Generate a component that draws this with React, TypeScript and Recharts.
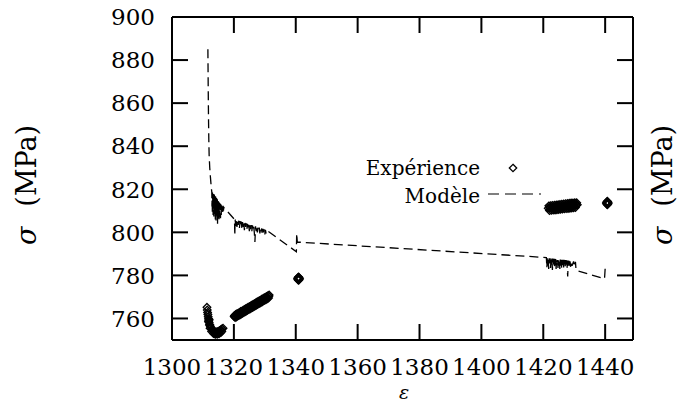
import React from 'react';
import { ComposedChart, XAxis, YAxis, Scatter, Line } from 'recharts';

const FONT = "'DejaVu Serif', 'Liberation Serif', serif";
const fontStyle = { fontFamily: FONT };

const xTicks = [1300, 1320, 1340, 1360, 1380, 1400, 1420, 1440];
const yTicks = [760, 780, 800, 820, 840, 860, 880, 900];

// Expérience (dense measured points)
const expX = [
  1311.3, 1311.4, 1311.5, 1311.6, 1311.7, 1311.8, 1311.9, 1312.0, 1312.2, 1312.4, 1312.6, 1312.9, 1313.2, 1313.5, 1313.8, 1314.1,
  1314.4, 1314.7, 1315.0, 1315.3, 1315.6, 1315.9, 1316.2, 1316.5, 1312.3, 1312.8, 1313.4, 1314.0, 1314.6, 1315.2, 1315.8,
  1311.8, 1312.1, 1312.0, 1313.0, 1313.9, 1315.0, 1316.1,
  1320.2, 1320.6, 1321.0, 1321.4, 1321.8, 1322.2, 1322.6, 1323.0, 1323.4, 1323.8, 1324.2, 1324.6, 1325.0, 1325.4, 1325.8,
  1326.2, 1326.6, 1327.0, 1327.4, 1327.8, 1328.2, 1328.6, 1329.0, 1329.4, 1329.8, 1330.2, 1330.6, 1331.0, 1331.4,
  1320.4, 1320.8, 1321.2, 1321.6, 1322.0, 1322.4, 1322.8, 1323.2, 1323.6, 1324.0, 1324.4, 1324.8, 1325.2, 1325.6, 1326.0,
  1326.4, 1326.8, 1327.2, 1327.6, 1328.0, 1328.4, 1328.8, 1329.2, 1329.6, 1330.0, 1330.4, 1330.8, 1331.2,
  1320.1, 1320.9, 1321.7, 1322.5, 1323.3, 1324.1, 1324.9, 1325.7, 1326.5, 1327.3, 1328.1, 1328.9, 1329.7, 1330.5, 1331.3,
  1340.9, 1340.6, 1341.2, 1340.9, 1340.9, 1340.75, 1341.05, 1340.75, 1341.05, 1340.8, 1341.0, 1340.9, 1340.8, 1341.0,
  1421.8, 1422.4, 1423.0, 1423.6, 1424.2, 1424.8, 1425.4, 1426.0, 1426.6, 1427.2, 1427.8, 1428.4, 1429.0, 1429.6, 1430.2, 1430.8,
  1421.6, 1422.2, 1422.8, 1423.4, 1424.0, 1424.6, 1425.2, 1425.8, 1426.4, 1427.0, 1427.6, 1428.2, 1428.8, 1429.4, 1430.0, 1430.6, 1431.0,
  1422.0, 1422.6, 1423.2, 1423.8, 1424.4, 1425.0, 1425.6, 1426.2, 1426.8, 1427.4, 1428.0, 1428.6, 1429.2, 1429.8, 1430.4,
  1440.7, 1440.4, 1441.0, 1440.7, 1440.7, 1440.55, 1440.85, 1440.55, 1440.85, 1440.6, 1440.8, 1440.7, 1440.6, 1440.8,
];
const expY = [
  765.2, 763.9, 762.8, 761.8, 760.8, 759.9, 759.0, 758.1, 757.2, 756.4, 755.7, 755.0, 754.5, 754.1, 753.8, 753.7,
  753.7, 753.8, 754.0, 754.3, 754.6, 754.9, 755.2, 755.5, 755.4, 754.0, 753.0, 752.6, 752.6, 752.9, 753.5,
  758.6, 757.0, 759.5, 754.8, 752.9, 753.1, 754.1,
  761.4, 761.8, 762.2, 762.4, 762.8, 763.2, 763.4, 763.8, 764.2, 764.5, 764.8, 765.2, 765.5, 765.8, 766.2,
  766.5, 766.8, 767.2, 767.5, 767.9, 768.2, 768.5, 768.9, 769.2, 769.6, 769.9, 770.2, 770.6, 770.9,
  760.4, 760.7, 761.1, 761.4, 761.7, 762.1, 762.4, 762.8, 763.1, 763.4, 763.8, 764.1, 764.4, 764.8, 765.1,
  765.4, 765.8, 766.1, 766.5, 766.8, 767.1, 767.5, 767.8, 768.2, 768.5, 768.8, 769.2, 769.5,
  760.9, 761.6, 762.3, 762.9, 763.6, 764.3, 764.9, 765.6, 766.3, 767.0, 767.6, 768.3, 769.0, 769.7, 770.3,
  778.5, 778.5, 778.5, 779.3, 777.7, 779.0, 778.0, 778.0, 779.0, 778.5, 778.5, 778.8, 778.2, 778.2,
  812.3, 812.4, 812.5, 812.6, 812.7, 812.8, 812.9, 813.0, 813.2, 813.3, 813.4, 813.5, 813.6, 813.6, 813.7, 813.7,
  811.2, 811.3, 811.4, 811.5, 811.6, 811.7, 811.8, 811.9, 812.0, 812.1, 812.2, 812.3, 812.4, 812.5, 812.6, 812.7, 812.8,
  810.1, 810.2, 810.3, 810.4, 810.5, 810.6, 810.7, 810.8, 810.9, 811.0, 811.1, 811.2, 811.3, 811.4, 811.5,
  813.6, 813.6, 813.6, 814.4, 812.8, 814.1, 813.1, 813.1, 814.1, 813.6, 813.6, 813.9, 813.3, 813.3,
];

// Modèle (dashed line)
const modelX = [
  1311.6, 1311.7, 1311.8, 1311.9, 1312.0, 1312.2, 1312.4, 1312.6, 1312.8,
  1312.86, 1312.92, 1312.98, 1313.04, 1313.10, 1313.16, 1313.22, 1313.28, 1313.34, 1313.40, 1313.46, 1313.52,
  1313.58, 1313.64, 1313.70, 1313.76, 1313.82, 1313.88, 1313.94, 1314.00, 1314.06, 1314.12, 1314.18, 1314.24,
  1314.30, 1314.36, 1314.42, 1314.48, 1314.54, 1314.60, 1314.66, 1314.72, 1314.78, 1314.84, 1314.90, 1314.96,
  1315.02, 1315.08, 1315.14, 1315.20, 1315.26, 1315.32, 1315.38, 1315.44, 1315.50, 1315.56, 1315.62, 1315.68,
  1315.74, 1315.80, 1315.86, 1315.92, 1315.98, 1316.04, 1316.10, 1316.16, 1316.22, 1316.28, 1316.34, 1316.40,
  1316.46, 1316.52, 1316.58, 1316.64, 1316.70, 1316.8,
  1320.2, 1320.3, 1320.4, 1320.6, 1320.8, 1321.0, 1321.2, 1321.4, 1321.6, 1321.8, 1322.0, 1322.2, 1322.4, 1322.6,
  1322.8, 1323.0, 1323.2, 1323.4, 1323.6, 1323.8, 1324.0, 1324.2, 1324.4, 1324.6, 1324.8, 1325.0, 1325.2, 1325.4,
  1325.6, 1325.8, 1326.0, 1326.2, 1326.4, 1326.6, 1326.8, 1327.0, 1327.2, 1327.4, 1327.6, 1327.8, 1328.0, 1328.2,
  1328.4, 1328.6, 1328.8, 1329.0, 1329.2, 1329.4, 1329.6, 1329.8, 1330.0, 1330.2, 1330.4, 1330.6,
  1340.2, 1340.3, 1340.5,
  1421.0, 1421.15, 1421.3, 1421.45, 1421.6, 1421.75, 1421.9, 1422.05, 1422.2, 1422.35, 1422.5, 1422.65, 1422.8, 1422.95,
  1423.1, 1423.25, 1423.4, 1423.55, 1423.7, 1423.85, 1424.0, 1424.15, 1424.3, 1424.45, 1424.6, 1424.75, 1424.9, 1425.05,
  1425.2, 1425.35, 1425.5, 1425.65, 1425.8, 1425.95, 1426.1, 1426.25, 1426.4, 1426.55, 1426.7, 1426.85, 1427.0, 1427.15,
  1427.3, 1427.45, 1427.6, 1427.75, 1427.9, 1428.05, 1428.2, 1428.35, 1428.5, 1428.65, 1428.8, 1429.2, 1429.3, 1429.8,
  1430.0, 1430.4, 1430.6, 1439.8, 1440.0,
];
const modelY = [
  885, 868, 853, 843, 836, 830, 826, 822.5, 819.5,
  818.8, 812, 818.6, 809, 818.4, 813, 818.2, 808, 818, 811, 817.8, 807,
  817.6, 812, 817.4, 808.5, 817.2, 810, 817, 806, 816.7, 811, 816.4, 805.5,
  816.1, 809, 815.8, 807, 815.5, 811, 815.2, 804, 814.9, 809, 814.6, 806,
  814.3, 810, 814, 805, 813.8, 809.5, 813.6, 807, 813.4, 810.5, 813.2, 806.5,
  813, 810, 812.8, 808, 812.6, 810.5, 812.4, 809, 812.2, 810.5, 812, 809.5,
  811.9, 810.5, 811.8, 810, 811.7, 811.5,
  806, 798.5, 806, 803, 805.8, 802.5, 805.6, 803.5, 805.4, 802, 805.2, 803, 805, 801.5,
  804.8, 802.5, 804.6, 801, 804.4, 802.5, 804.2, 801.5, 804, 802, 803.8, 800.5, 803.6, 801.5,
  803.4, 800.5, 803.2, 801.5, 803, 800, 795.5, 802.8, 800.5, 802.6, 800, 802.4, 801, 802.2,
  799.5, 802, 800.5, 801.8, 799, 801.6, 800, 801.4, 799, 801.2, 799.5, 801,
  791, 799.5, 795.5,
  788.3, 783.5, 788.1, 784.5, 788, 783, 788, 784.5, 787.9, 783.5, 787.9, 785, 787.8, 782.5,
  787.8, 784.5, 787.7, 783.5, 787.7, 784.5, 787.6, 783, 787.6, 785, 787.5, 783.5, 787.5, 784.5,
  787.4, 783, 787.4, 784.5, 787.3, 783.5, 787.3, 784, 787.2, 783, 787.2, 785, 787.1, 783.5,
  787.1, 784.5, 787, 783, 779.5, 786.9, 784, 786.8, 784.5, 786.7, 784, 786.6, 784.5, 786.5,
  784, 786.3, 782.3, 778.5, 783.2,
];

const expData = expX.map((x, i) => ({ x, y: expY[i] }));
const modelData = modelX.map((x, i) => ({ x, y: modelY[i] }));

const TICK = 16;
const TICK_FS = 23;

function BottomTick(props: any) {
  const { x, y, payload } = props;
  return (
    <g>
      <line x1={x} y1={y} x2={x} y2={y - TICK} stroke="#000" strokeWidth={2} />
      <text x={x} y={y + 35} textAnchor="middle" style={fontStyle} fontSize={TICK_FS} fill="#000">
        {payload.value}
      </text>
    </g>
  );
}
function TopTick(props: any) {
  const { x, y } = props;
  return <line x1={x} y1={y} x2={x} y2={y + TICK} stroke="#000" strokeWidth={2} />;
}
function LeftTick(props: any) {
  const { x, y, payload } = props;
  return (
    <g>
      <line x1={x} y1={y} x2={x + TICK} y2={y} stroke="#000" strokeWidth={2} />
      <text x={x - 17} y={y} dy="0.36em" textAnchor="end" style={fontStyle} fontSize={TICK_FS} fill="#000">
        {payload.value}
      </text>
    </g>
  );
}
function RightTick(props: any) {
  const { x, y } = props;
  return <line x1={x} y1={y} x2={x - TICK} y2={y} stroke="#000" strokeWidth={2} />;
}

function Diamond(props: any) {
  const { cx, cy } = props;
  const r = 3.8;
  return (
    <path
      d={`M${cx},${cy - r} L${cx + r},${cy} L${cx},${cy + r} L${cx - r},${cy} Z`}
      fill="none"
      stroke="#000"
      strokeWidth={1.3}
    />
  );
}

export default function App() {
  return (
    <div style={{ position: 'absolute', left: 0, top: 0, width: 680, height: 407, background: '#fff' }}>
      <ComposedChart width={680} height={407} margin={{ top: 16, right: 46, bottom: 27, left: 72 }}>
        <XAxis
          dataKey="x"
          type="number"
          domain={[1300, 1449]}
          ticks={xTicks}
          interval={0}
          height={40}
          tickSize={0}
          tickMargin={0}
          tickLine={false}
          axisLine={{ stroke: '#000', strokeWidth: 2 }}
          tick={<BottomTick />}
          allowDataOverflow
        />
        <XAxis
          xAxisId="top"
          orientation="top"
          dataKey="x"
          type="number"
          domain={[1300, 1449]}
          ticks={xTicks}
          interval={0}
          height={1}
          tickSize={0}
          tickMargin={0}
          tickLine={false}
          axisLine={{ stroke: '#000', strokeWidth: 2 }}
          tick={<TopTick />}
          allowDataOverflow
        />
        <YAxis
          dataKey="y"
          type="number"
          domain={[750, 900]}
          ticks={yTicks}
          interval={0}
          width={100}
          tickSize={0}
          tickMargin={0}
          tickLine={false}
          axisLine={{ stroke: '#000', strokeWidth: 2 }}
          tick={<LeftTick />}
          allowDataOverflow
        />
        <YAxis
          yAxisId="right"
          orientation="right"
          dataKey="y"
          type="number"
          domain={[750, 900]}
          ticks={yTicks}
          interval={0}
          width={1}
          tickSize={0}
          tickMargin={0}
          tickLine={false}
          axisLine={{ stroke: '#000', strokeWidth: 2 }}
          tick={<RightTick />}
          allowDataOverflow
        />
        <Scatter data={expData} shape={<Diamond />} isAnimationActive={false} />
        <Line
          data={modelData}
          dataKey="y"
          type="linear"
          stroke="#000"
          strokeWidth={1.3}
          strokeDasharray="9 5"
          dot={false}
          activeDot={false}
          isAnimationActive={false}
        />
      </ComposedChart>
      <svg
        width={680}
        height={407}
        style={{ position: 'absolute', left: 0, top: 0, pointerEvents: 'none', fontFamily: FONT }}
      >
        <text transform="translate(36,185) rotate(-90)" textAnchor="middle" fontSize={27} fill="#000" style={fontStyle}>
          <tspan fontStyle="italic">σ</tspan>
          <tspan dx={20}>(MPa)</tspan>
        </text>
        <text transform="translate(672,185) rotate(-90)" textAnchor="middle" fontSize={27} fill="#000" style={fontStyle}>
          <tspan fontStyle="italic">σ</tspan>
          <tspan dx={20}>(MPa)</tspan>
        </text>
        <text x={404} y={399} textAnchor="middle" fontSize={19} fontStyle="italic" fill="#000" style={fontStyle}>
          ε
        </text>
        <text x={480} y={175} textAnchor="end" fontSize={20} fill="#000" style={fontStyle}>
          Expérience
        </text>
        <path d="M513,164.3 L516.7,168 L513,171.7 L509.3,168 Z" fill="none" stroke="#000" strokeWidth={1.3} />
        <text x={480} y={203} textAnchor="end" fontSize={20} fill="#000" style={fontStyle}>
          Modèle
        </text>
        <line x1={488} y1={194} x2={541} y2={194} stroke="#000" strokeWidth={1.2} strokeDasharray="11 6" />
      </svg>
    </div>
  );
}
